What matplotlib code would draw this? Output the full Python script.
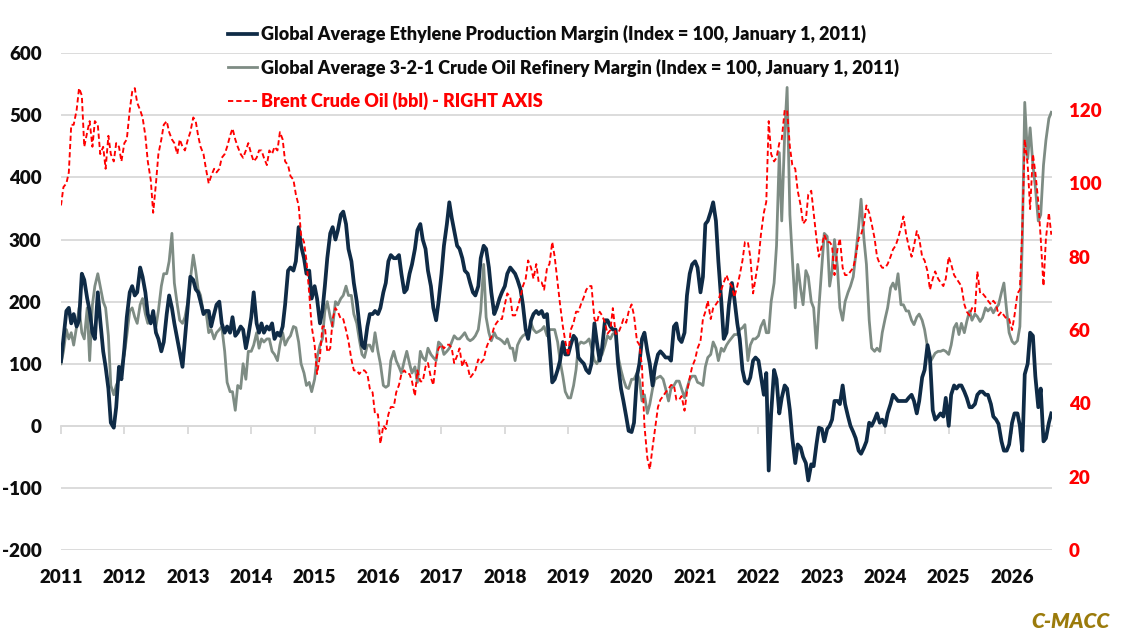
import numpy as np
import pandas as pd
import matplotlib
matplotlib.use("Agg")
import matplotlib.pyplot as plt
import matplotlib.dates as mdates
from matplotlib.font_manager import FontProperties

# ---------------- data (semi-monthly readings, Jan 2011 - Aug 2026) ----------------
ethylene = [
    104, 140, 185, 190, 165, 180, 160, 170, 245, 235, 205, 185, 150, 140, 215, 170, 120, 95, 60, 5, -3, 30, 95, 75,
    125, 175, 215, 225, 210, 215, 255, 240, 215, 180, 165, 185, 150, 140, 120, 135, 180, 210, 190, 165, 140, 120, 95, 140,
    195, 240, 235, 220, 215, 200, 180, 185, 185, 160, 180, 195, 200, 165, 150, 160, 150, 175, 145, 150, 160, 155, 125, 145,
    175, 215, 165, 150, 165, 150, 160, 155, 165, 140, 150, 145, 160, 195, 250, 255, 250, 265, 320, 290, 270, 245, 250, 205,
    225, 205, 165, 185, 225, 270, 310, 320, 300, 315, 340, 345, 325, 285, 265, 230, 200, 165, 130, 125, 160, 180, 180, 185,
    180, 190, 215, 230, 265, 275, 270, 270, 275, 245, 215, 220, 245, 260, 285, 315, 325, 300, 285, 250, 225, 190, 170, 200,
    245, 290, 325, 360, 335, 315, 290, 285, 270, 250, 245, 230, 215, 210, 225, 270, 290, 285, 255, 215, 180, 190, 205, 215,
    225, 245, 255, 250, 245, 235, 220, 195, 155, 140, 170, 180, 185, 180, 185, 175, 180, 130, 70, 75, 90, 105, 135, 115,
    115, 130, 145, 140, 110, 105, 100, 90, 85, 100, 165, 135, 105, 125, 170, 170, 160, 155, 155, 100, 60, 40, 15, -8,
    -10, 5, 80, 100, 140, 150, 120, 100, 65, 95, 115, 120, 115, 110, 110, 105, 160, 165, 140, 135, 150, 210, 245, 260,
    265, 255, 215, 240, 325, 330, 345, 360, 330, 265, 200, 140, 150, 195, 230, 205, 165, 140, 90, 72, 68, 78, 105, 110,
    105, 80, 50, 85, -72, 20, 90, 75, 20, 45, 65, 60, 25, -20, -60, -30, -35, -50, -60, -88, -62, -65, -30, -3,
    -5, -25, -5, 0, 10, 40, 40, 35, 65, 35, 15, 0, -10, -20, -40, -45, -35, -25, 5, 0, 10, 20, 5, 10,
    0, 20, 35, 50, 45, 40, 40, 40, 40, 45, 50, 40, 20, 40, 78, 90, 130, 110, 25, 10, 15, 20, 15, 45,
    0, 50, 65, 60, 65, 65, 55, 45, 30, 30, 35, 50, 55, 55, 50, 50, 35, 15, 10, 3, -25, -40, -40, -30,
    5, 20, 20, 0, -40, 83, 100, 150, 145, 80, 30, 60, -25, -20, 5, 20,
]

refinery = [
    100, 120, 155, 140, 150, 130, 160, 190, 150, 140, 190, 105, 195, 225, 245, 225, 200, 190, 145, 65, 50, 65, 75, 95,
    115, 145, 185, 190, 175, 165, 195, 205, 180, 165, 175, 180, 160, 185, 225, 245, 245, 265, 310, 230, 195, 170, 165, 175,
    200, 235, 275, 250, 220, 210, 180, 185, 150, 155, 140, 150, 155, 160, 120, 70, 55, 55, 25, 65, 60, 100, 75, 120,
    120, 130, 150, 125, 140, 135, 140, 140, 120, 115, 105, 130, 150, 130, 140, 145, 160, 158, 135, 100, 85, 65, 70, 55,
    75, 110, 130, 140, 185, 200, 175, 160, 200, 195, 205, 210, 225, 210, 210, 180, 165, 140, 115, 110, 130, 130, 120, 150,
    120, 100, 65, 62, 65, 105, 120, 105, 95, 85, 105, 120, 100, 85, 95, 70, 120, 110, 105, 125, 115, 110, 105, 135,
    130, 115, 120, 125, 135, 145, 140, 140, 145, 150, 140, 137, 140, 145, 155, 185, 260, 175, 150, 137, 150, 142, 140, 137,
    132, 140, 125, 125, 105, 130, 140, 145, 148, 150, 165, 155, 150, 152, 155, 160, 145, 155, 155, 155, 135, 105, 80, 55,
    45, 45, 65, 90, 130, 135, 133, 135, 140, 126, 105, 100, 110, 115, 130, 145, 140, 148, 150, 112, 90, 75, 62, 60,
    75, 75, 85, 75, 40, 50, 20, 35, 60, 75, 78, 80, 75, 60, 40, 60, 65, 72, 72, 60, 45, 60, 75, 80,
    80, 70, 68, 65, 95, 110, 115, 135, 125, 105, 125, 120, 130, 136, 142, 147, 147, 155, 158, 163, 105, 130, 140, 140,
    145, 160, 170, 150, 150, 200, 230, 290, 440, 330, 470, 545, 340, 270, 190, 260, 220, 195, 250, 240, 200, 190, 125, 190,
    255, 310, 305, 225, 250, 300, 255, 190, 170, 200, 215, 225, 240, 275, 320, 365, 300, 260, 170, 125, 120, 125, 120, 150,
    173, 190, 222, 230, 220, 245, 195, 195, 185, 185, 170, 163, 175, 180, 170, 155, 126, 102, 110, 117, 120, 120, 122, 120,
    115, 130, 158, 165, 147, 165, 150, 168, 185, 170, 180, 176, 168, 174, 190, 185, 190, 182, 190, 195, 215, 230, 185, 150,
    136, 132, 137, 160, 300, 521, 430, 480, 420, 385, 330, 340, 420, 460, 495, 505,
]

brent = [
    94, 99, 100, 103, 116, 116, 120, 126, 124, 110, 114, 117, 110, 117, 116, 108, 110, 104, 113, 108, 106, 111, 110, 106,
    111, 112, 120, 125, 126, 122, 120, 118, 113, 106, 101, 92, 100, 108, 112, 116, 117, 114, 112, 111, 108, 112, 110, 109,
    112, 114, 118, 117, 113, 110, 108, 104, 100, 102, 104, 103, 104, 107, 108, 110, 113, 115, 112, 110, 108, 107, 109, 111,
    108, 106, 107, 109, 109, 107, 105, 109, 108, 110, 109, 114, 112, 106, 105, 102, 101, 97, 94, 86, 84, 79, 70, 61,
    56, 48, 53, 61, 61, 54, 55, 63, 66, 65, 63, 63, 60, 57, 52, 49, 49, 48, 49, 49, 48, 44, 43, 37,
    37, 29, 34, 33, 37, 39, 39, 43, 45, 48, 49, 48, 48, 46, 42, 49, 46, 46, 50, 51, 47, 45, 52, 55,
    56, 55, 56, 56, 55, 51, 53, 55, 50, 52, 50, 47, 48, 49, 52, 51, 52, 55, 57, 58, 61, 62, 63, 63,
    67, 70, 69, 64, 64, 66, 69, 72, 74, 79, 77, 74, 78, 73, 73, 71, 77, 78, 84, 80, 73, 67, 61, 57,
    53, 60, 62, 65, 65, 67, 69, 71, 72, 72, 63, 62, 65, 64, 62, 59, 60, 66, 59, 59, 61, 63, 62, 65,
    67, 64, 57, 56, 50, 34, 25, 22, 28, 33, 39, 41, 42, 43, 44, 45, 45, 41, 41, 42, 38, 43, 47, 50,
    52, 55, 57, 63, 65, 68, 63, 66, 67, 68, 71, 73, 75, 73, 72, 69, 72, 75, 79, 84, 84, 80, 70, 74,
    79, 86, 92, 95, 117, 108, 106, 107, 111, 112, 120, 120, 110, 105, 104, 98, 94, 89, 90, 97, 98, 92, 85, 80,
    83, 86, 84, 84, 83, 75, 82, 85, 77, 75, 75, 76, 77, 80, 85, 86, 89, 94, 92, 89, 85, 80, 78, 77,
    77, 78, 80, 82, 83, 85, 88, 91, 86, 83, 80, 83, 87, 85, 80, 79, 76, 71, 74, 76, 74, 73, 72, 74,
    80, 78, 75, 74, 73, 72, 67, 65, 64, 66, 65, 76, 70, 70, 69, 68, 67, 68, 67, 64, 65, 64, 63, 63,
    60, 64, 70, 71, 88, 112, 105, 93, 108, 103, 95, 85, 72, 85, 92, 86,
]

series_labels = [
    "Global Average Ethylene Production Margin (Index = 100, January 1, 2011)",
    "Global Average 3-2-1 Crude Oil Refinery Margin (Index = 100, January 1, 2011)",
    "Brent Crude Oil (bbl) - RIGHT AXIS",
]
year_labels = [str(y) for y in range(2011, 2027)]
left_ticks = [-200, -100, 0, 100, 200, 300, 400, 500, 600]
right_ticks = [0, 20, 40, 60, 80, 100, 120]
brand = "C-MACC"

# ---------------- styling ----------------
plt.rcParams["font.family"] = ["Lato", "DejaVu Sans"]
WEIGHT = "heavy"
plt.rcParams["font.weight"] = WEIGHT

C_ETH = "#0f2b46"
C_REF = "#7e8c84"
C_BRENT = "#ff0000"
C_GRID = "#d9d9d9"
C_TXT = "#0d0d0d"

W, H = 1122, 637
fig = plt.figure(figsize=(W / 100, H / 100), dpi=100)
ax = fig.add_axes([61 / W, (H - 550) / H, (1052 - 61) / W, (550 - 53.3) / H])

dates = pd.date_range("2011-01-01", periods=len(ethylene), freq="SMS")
xnum = mdates.date2num(dates)
year_pos = mdates.date2num(pd.to_datetime([f"{y}-01-01" for y in year_labels]))

l_ref, = ax.plot(xnum, refinery, color=C_REF, lw=2.0, zorder=3, solid_joinstyle="round")
l_eth, = ax.plot(xnum, ethylene, color=C_ETH, lw=2.7, zorder=4, solid_joinstyle="round")

ax.set_xlim(mdates.date2num(pd.Timestamp("2011-01-01")), mdates.date2num(pd.Timestamp("2026-08-19")))
ax.set_ylim(-200, 600)
ax.set_yticks(left_ticks)
ax.set_yticklabels([str(v) for v in left_ticks])
ax.set_axisbelow(True)
ax.grid(axis="y", color=C_GRID, lw=1.3)
ax.grid(axis="x", visible=False)
for s in ["top", "left", "right"]:
    ax.spines[s].set_visible(False)
ax.spines["bottom"].set_position(("data", 0))
ax.spines["bottom"].set_color(C_GRID)
ax.spines["bottom"].set_linewidth(1.3)
ax.set_xticks(year_pos)
ax.tick_params(axis="x", direction="out", length=6, width=1.3, color=C_GRID, labelbottom=False)
ax.tick_params(axis="y", length=0, pad=14, labelsize=13.5, labelcolor=C_TXT)

sec = ax.secondary_xaxis("bottom")
sec.set_xticks(year_pos)
sec.set_xticklabels(year_labels)
sec.tick_params(length=0, pad=14, labelsize=13.5, labelcolor=C_TXT)
sec.spines["bottom"].set_visible(False)

ax2 = ax.twinx()
l_br, = ax2.plot(xnum, brent, color=C_BRENT, lw=1.35, ls=(0, (2.8, 1.6)), zorder=5)
ax2.set_ylim(0, 135.5)
ax2.set_yticks(right_ticks)
ax2.set_yticklabels([str(v) for v in right_ticks])
ax2.tick_params(axis="y", length=0, pad=12, labelsize=13.5, labelcolor=C_BRENT)
for s in ax2.spines.values():
    s.set_visible(False)

for t in ax.get_yticklabels() + sec.get_xticklabels() + ax2.get_yticklabels():
    t.set_fontweight(WEIGHT)

# ---------------- legend (sized so first label spans ~607 px) ----------------
renderer = fig.canvas.get_renderer()
probe = fig.text(0, 0, series_labels[0], fontsize=10, fontweight=WEIGHT)
wprobe = probe.get_window_extent(renderer).width
probe.remove()
fs = 10 * 607 / wprobe
fs_px = fs * 100 / 72
fp = FontProperties(family=["Lato", "DejaVu Sans"], weight=WEIGHT, size=fs)


def make_legend(ls):
    return fig.legend([l_eth, l_ref, l_br], series_labels, loc="upper left", bbox_to_anchor=(0, 1),
                      bbox_transform=fig.transFigure, frameon=False, prop=fp,
                      handlelength=29 / fs_px, handletextpad=4 / fs_px, labelspacing=ls,
                      borderpad=0, borderaxespad=0)


ls = 0.5
leg = make_legend(ls)
fig.canvas.draw()
tb = [t.get_window_extent(renderer) for t in leg.get_texts()]
pitch = ((tb[0].y0 + tb[0].y1) - (tb[1].y0 + tb[1].y1)) / 2
ls = ls + (33.5 - pitch) / fs_px
leg.remove()
leg = make_legend(ls)
fig.canvas.draw()
t0 = leg.get_texts()[0].get_window_extent(renderer)
dx = 261 - t0.x0
dy = (H - 34) - (t0.y0 + t0.y1) / 2
leg.set_bbox_to_anchor((dx / W, 1 + dy / H), transform=fig.transFigure)
texts = leg.get_texts()
texts[0].set_color(C_TXT)
texts[1].set_color(C_TXT)
texts[2].set_color(C_BRENT)

fig.text(1110 / W, 1 - 621 / H, brand, ha="right", va="center", color="#9b7b0b",
         fontsize=15, fontweight=WEIGHT, style="italic")

fig.savefig("out.png", dpi=100)
